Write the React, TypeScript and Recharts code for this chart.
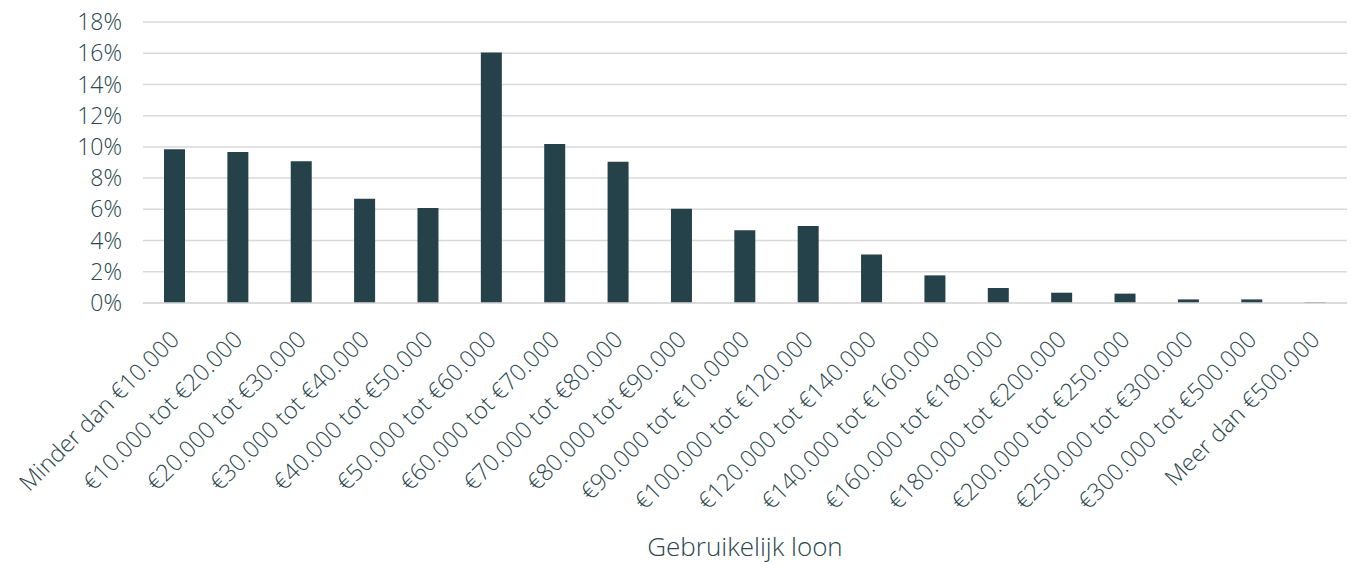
import { BarChart, Bar, XAxis, YAxis, CartesianGrid, Label } from "recharts";

const categories = [
  "Minder dan €10.000",
  "€10.000 tot €20.000",
  "€20.000 tot €30.000",
  "€30.000 tot €40.000",
  "€40.000 tot €50.000",
  "€50.000 tot €60.000",
  "€60.000 tot €70.000",
  "€70.000 tot €80.000",
  "€80.000 tot €90.000",
  "€90.000 tot €10.0000",
  "€100.000 tot €120.000",
  "€120.000 tot €140.000",
  "€140.000 tot €160.000",
  "€160.000 tot €180.000",
  "€180.000 tot €200.000",
  "€200.000 tot €250.000",
  "€250.000 tot €300.000",
  "€300.000 tot €500.000",
  "Meer dan €500.000",
];

// share of respondents per bracket, in percent
const shares = [
  9.85, 9.67, 9.08, 6.68, 6.09, 16.04, 10.19, 9.05, 6.04, 4.66, 4.94, 3.1, 1.77,
  0.96, 0.66, 0.6, 0.23, 0.23, 0.05,
];

const yTicks = [0, 2, 4, 6, 8, 10, 12, 14, 16, 18];

const axisTitle = "Gebruikelijk loon";

const data = categories.map((name, i) => ({ name, value: shares[i] }));

const INK = "#2a464e";
const BAR = "#25414a";
const FONT = "'Open Sans', Lato, sans-serif";
const WEIGHT = 350;

function SlantedTick({ x, y, payload }: any) {
  return (
    <g transform={`translate(${x + 6},${y + 30})`}>
      <text
        x={0}
        y={0}
        transform="rotate(-45)"
        textAnchor="end"
        fill={INK}
        fontSize={23.5}
        fontWeight={WEIGHT}
        fontFamily={FONT}
      >
        {payload.value}
      </text>
    </g>
  );
}

export default function App() {
  return (
    <div style={{ position: "absolute", left: 0, top: 0, width: 1351, height: 565, background: "#fff" }}>
      <BarChart
        width={1351}
        height={565}
        data={data}
        margin={{ top: 22, right: 4, bottom: 0, left: 0 }}
        barCategoryGap={0}
      >
        <CartesianGrid stroke="#d9d9d9" strokeWidth={1.5} vertical={false} />
        <XAxis
          dataKey="name"
          interval={0}
          height={262}
          tickLine={false}
          axisLine={{ stroke: "#d9d9d9", strokeWidth: 1.5 }}
          tick={<SlantedTick />}
        >
          <Label
            value={axisTitle}
            position="insideBottom"
            offset={9}
            fill={INK}
            fontSize={26}
            fontWeight={WEIGHT}
            fontFamily={FONT}
          />
        </XAxis>
        <YAxis
          width={143}
          domain={[0, 18]}
          ticks={yTicks}
          interval={0}
          tickLine={false}
          axisLine={false}
          tickMargin={15}
          tickFormatter={(v: number) => `${v}%`}
          tick={{ fill: INK, fontSize: 23, fontWeight: WEIGHT, fontFamily: FONT }}
        />
        <Bar dataKey="value" fill={BAR} barSize={21} isAnimationActive={false} />
      </BarChart>
    </div>
  );
}
